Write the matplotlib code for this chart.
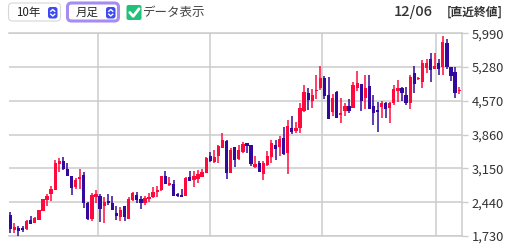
import matplotlib
matplotlib.use("Agg")
import matplotlib.pyplot as plt
from matplotlib.patches import FancyBboxPatch
import numpy as np

plt.rcParams["font.family"] = ["Noto Sans CJK JP", "DejaVu Sans"]

# Monthly OHLC values
opens = [2170, 1860, 1890, 1890, 1870, 2070, 2010, 2070, 2260, 2490,
         2610, 2700, 3240, 3300, 3140, 2990, 2750, 2920, 3010, 2430,
         2090, 2560, 2570, 2370, 2470, 2430, 2210, 2120, 2350, 2090,
         2490, 2590, 2510, 2420, 2510, 2540, 2660, 2700, 2990, 2800,
         2820, 2610, 2590, 2570, 2960, 2910, 2920, 2980, 3060, 3420,
         3290, 3410, 3570, 3730, 3060, 3590, 3340, 3500, 3680, 3640,
         3190, 3260, 3030, 3220, 3390, 3640, 3610, 3800, 3470, 4010,
         3940, 4000, 4360, 4730, 4570, 4770, 4850, 5050, 4690, 4340,
         4760, 4270, 4360, 4460, 4420, 4850, 4920, 4640, 4880, 4470,
         4380, 4450, 4520, 4410, 4520, 4780, 4830, 4690, 4530, 5150,
         5020, 4960, 5270, 5460, 5230, 5370, 5290, 5780, 5290, 5180,
         4770]
highs = [2240, 2000, 1940, 1930, 2070, 2140, 2130, 2280, 2500, 2610,
         2780, 3330, 3360, 3400, 3260, 2990, 2940, 3140, 3080, 2450,
         2640, 2700, 2610, 2540, 2610, 2570, 2360, 2330, 2360, 2540,
         2660, 2660, 2570, 2570, 2630, 2750, 2780, 3000, 3100, 2980,
         2910, 2640, 2710, 2960, 3100, 3100, 3120, 3140, 3400, 3500,
         3540, 3640, 3890, 3750, 3580, 3610, 3640, 3710, 3690, 3640,
         3410, 3310, 3310, 3520, 3750, 3750, 3830, 4020, 4170, 4250,
         4130, 4520, 4900, 4830, 4810, 5110, 5300, 5090, 5080, 4710,
         4780, 4620, 4520, 4600, 4960, 5200, 4920, 5110, 5110, 4690,
         4550, 4570, 4550, 4550, 4900, 5010, 4870, 4870, 5120, 5300,
         5070, 5430, 5440, 5570, 5570, 5460, 5930, 5860, 5290, 5290,
         4860]
lows = [1800, 1790, 1740, 1810, 1860, 1990, 2010, 2070, 2260, 2370,
        2470, 2700, 3080, 3120, 3000, 2590, 2720, 2720, 2310, 2070,
        2050, 2420, 2030, 2010, 2380, 2280, 2070, 2050, 2050, 2090,
        2470, 2420, 2300, 2390, 2440, 2520, 2560, 2680, 2820, 2780,
        2570, 2540, 2540, 2570, 2890, 2770, 2850, 2960, 3060, 3280,
        3260, 3260, 3570, 2930, 3060, 3190, 3330, 3470, 3480, 3210,
        3150, 3080, 2910, 3200, 3270, 3330, 3410, 3430, 3030, 3870,
        3890, 3900, 4340, 4380, 4430, 4600, 4800, 4600, 4190, 4250,
        4200, 4110, 4260, 4310, 4410, 4780, 4360, 4390, 4400, 4060,
        3910, 4200, 4200, 4110, 4480, 4550, 4570, 4480, 4390, 4730,
        5000, 4830, 5160, 4970, 5230, 5110, 5110, 5250, 4990, 4620,
        4720]
closes = [1870, 1910, 1840, 1860, 2050, 1990, 2110, 2270, 2500, 2570,
          2710, 3270, 3300, 3130, 3000, 2730, 2910, 2980, 2430, 2090,
          2590, 2610, 2300, 2450, 2430, 2280, 2160, 2280, 2120, 2510,
          2630, 2490, 2420, 2520, 2540, 2660, 2700, 2990, 2820, 2840,
          2570, 2570, 2560, 2940, 2890, 2990, 3030, 3080, 3360, 3310,
          3400, 3620, 3750, 3060, 3540, 3330, 3540, 3660, 3620, 3240,
          3240, 3080, 3270, 3410, 3690, 3560, 3760, 3450, 4040, 3910,
          4000, 4420, 4750, 4590, 4690, 4800, 5050, 4670, 4190, 4620,
          4210, 4310, 4460, 4360, 4900, 4940, 4570, 4850, 4400, 4310,
          4340, 4520, 4400, 4530, 4820, 4850, 4730, 4520, 5080, 4920,
          5050, 5360, 5370, 5220, 5300, 5250, 5810, 5290, 5090, 4740,
          4800]
y_ticks = [1730, 2440, 3150, 3860, 4570, 5280, 5990]
period_lines = [21.6, 49.0, 76.5, 104.3]

UP = "#ff0a3c"
DOWN = "#33089c"
GRID = "#cccccc"

fig = plt.figure(figsize=(5.1, 2.45), dpi=100)
ax = fig.add_axes([9 / 510, 9 / 245, 453 / 510, 202.7 / 245])

o = np.array(opens)
h = np.array(highs)
l = np.array(lows)
c = np.array(closes)
x = np.arange(len(o))
colors = np.where(c >= o, UP, DOWN)

ax.vlines(x, l, h, colors=colors, lw=1.1, zorder=3)
body_low = np.minimum(o, c)
body_h = np.maximum(np.abs(c - o), 28)
ax.bar(x, body_h, bottom=body_low, width=0.8, color=colors, lw=0, zorder=4)

ax.set_xlim(-0.32, 110.7)
ax.set_ylim(y_ticks[0], y_ticks[-1])
ax.set_yticks(y_ticks)
ax.set_yticklabels([f"{v:,}" for v in y_ticks])
ax.set_xticks(period_lines)
ax.set_xticklabels([])
ax.yaxis.tick_right()
ax.tick_params(axis="y", length=4, color=GRID, width=1, pad=3,
               labelsize=9.3, labelcolor="#333333")
ax.tick_params(axis="x", length=0)
ax.grid(True, color=GRID, lw=1.1, zorder=0)
ax.set_axisbelow(True)
for side in ["top", "bottom", "right"]:
    ax.spines[side].set_color(GRID)
    ax.spines[side].set_linewidth(1.1)
ax.spines["left"].set_visible(False)

# header controls drawn in pixel coordinates
hud = fig.add_axes([0, 0, 1, 1], zorder=5)
hud.set_xlim(0, 510)
hud.set_ylim(245, 0)
hud.axis("off")


def select_box(x0, w, label, ring=False):
    if ring:
        hud.add_patch(FancyBboxPatch((x0, 3), w, 18, boxstyle="round,pad=0,rounding_size=4",
                                     fc="white", ec="#a68cf2", lw=2.2))
    else:
        hud.add_patch(FancyBboxPatch((x0, 3), w, 18, boxstyle="round,pad=0,rounding_size=4",
                                     fc="white", ec="#d6d6d6", lw=0.8))
    hud.text(x0 + 8, 12.5, label, fontsize=8.3, color="#222222", va="center", ha="left")
    ix = x0 + w - 12.5
    hud.add_patch(FancyBboxPatch((ix, 7), 9.5, 11.5, boxstyle="round,pad=0,rounding_size=2.5",
                                 fc="#3d4af2", ec="none"))
    cx = ix + 4.75
    hud.plot([cx - 2, cx, cx + 2], [11.3, 9.5, 11.3], color="white", lw=1.0)
    hud.plot([cx - 2, cx, cx + 2], [14.2, 16.0, 14.2], color="white", lw=1.0)


select_box(8.5, 52, "10年")
select_box(67.5, 51, "月足", ring=True)

hud.add_patch(FancyBboxPatch((126.5, 5), 15, 15, boxstyle="round,pad=0,rounding_size=2",
                             fc="#22c17a", ec="none"))
hud.plot([129.8, 133.2, 139], [12.5, 16.3, 8.8], color="white", lw=2.0,
         solid_capstyle="round", solid_joinstyle="round")
hud.text(143, 12.5, "データ表示", fontsize=9, color="#444444", va="center", ha="left")

hud.text(433, 12, "12/06", fontsize=10.5, color="#333333", va="center", ha="right",
         fontweight="medium")
hud.text(503, 12, "[直近終値]", fontsize=8.5, color="#333333", va="center", ha="right",
         fontweight="bold")

fig.savefig("out.png", dpi=100)
